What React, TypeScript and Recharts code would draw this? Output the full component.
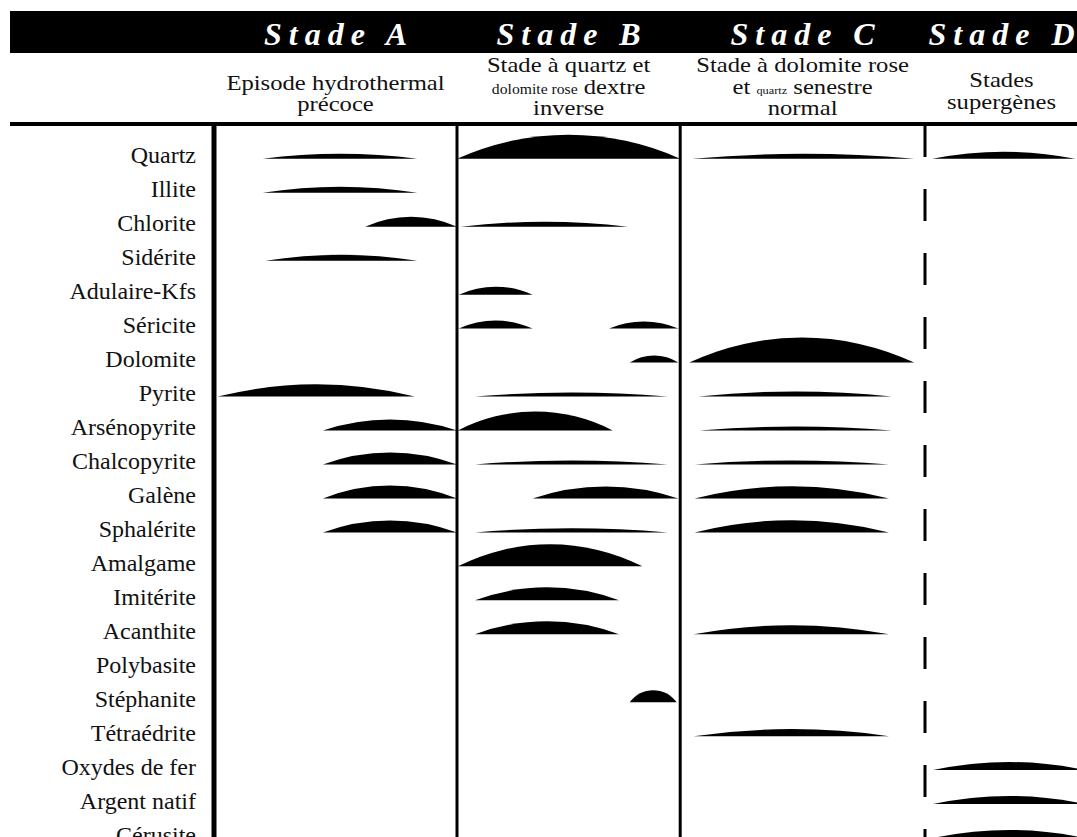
import React from 'react';
import { ComposedChart, Bar, XAxis, YAxis, ReferenceLine } from 'recharts';

// ---------- data ----------
const minerals = [
  'Quartz', 'Illite', 'Chlorite', 'Sidérite', 'Adulaire-Kfs', 'Séricite', 'Dolomite',
  'Pyrite', 'Arsénopyrite', 'Chalcopyrite', 'Galène', 'Sphalérite', 'Amalgame',
  'Imitérite', 'Acanthite', 'Polybasite', 'Stéphanite', 'Tétraédrite',
  'Oxydes de fer', 'Argent natif', 'Cérusite',
];

const stageNames = ['Stade A', 'Stade B', 'Stade C', 'Stade D'];
// relative time boundaries of the stages
const stageBounds = [0, 27, 51.8, 79, 96];

// subtitle lines: each part is [text, small?]
const stageSubtitles: [string, boolean][][][] = [
  [[['Episode hydrothermal', false]], [['précoce', false]]],
  [[['Stade à quartz et', false]], [['dolomite rose', true], [' dextre', false]], [['inverse', false]]],
  [[['Stade à dolomite rose', false]], [['et ', false], ['quartz', true], [' senestre', false]], [['normal', false]]],
  [[['Stades', false]], [['supergènes', false]]],
];

// [mineral, start, end, relative abundance (0-10)]
const stageASegments: [string, number, number, number][] = [
  ['Quartz', 5.4, 22.6, 2],
  ['Illite', 5.4, 22.6, 2.4],
  ['Chlorite', 16.8, 27, 4],
  ['Sidérite', 5.7, 22.6, 2.4],
  ['Pyrite', 0.4, 22.3, 4.8],
  ['Arsénopyrite', 12.1, 27, 4.4],
  ['Chalcopyrite', 12.1, 27, 4.8],
  ['Galène', 12.1, 27, 5.2],
  ['Sphalérite', 12.1, 27, 4.8],
];

const stageBSegments: [string, number, number, number][] = [
  ['Quartz', 27, 51.8, 9.6],
  ['Chlorite', 27.4, 46, 2],
  ['Adulaire-Kfs', 27.2, 35.4, 3.2],
  ['Séricite', 27.2, 35.4, 3.2],
  ['Séricite', 43.9, 51.6, 2.8],
  ['Dolomite', 46.2, 51.6, 2.8],
  ['Pyrite', 29, 50.4, 1.6],
  ['Arsénopyrite', 27.1, 44.3, 7.6],
  ['Chalcopyrite', 29, 50.4, 1.6],
  ['Galène', 35.4, 51.6, 4.8],
  ['Sphalérite', 29, 50.4, 1.6],
  ['Amalgame', 27.1, 47.6, 8.8],
  ['Imitérite', 29, 45, 5.2],
  ['Acanthite', 29, 45, 5.2],
  ['Stéphanite', 46.2, 51.4, 4.8],
];

const stageCSegments: [string, number, number, number][] = [
  ['Quartz', 53.1, 77.8, 2],
  ['Dolomite', 52.8, 77.8, 10],
  ['Pyrite', 53.8, 75.3, 2],
  ['Arsénopyrite', 53.9, 75.3, 1.6],
  ['Chalcopyrite', 53.4, 75, 1.6],
  ['Galène', 53.4, 75, 4.8],
  ['Sphalérite', 53.4, 75, 4.8],
  ['Acanthite', 53.3, 75, 3.6],
  ['Tétraédrite', 53.3, 75, 2.8],
];

const stageDSegments: [string, number, number, number][] = [
  ['Quartz', 79.8, 95.7, 2.8],
  ['Oxydes de fer', 79.9, 96.8, 3.2],
  ['Argent natif', 79.9, 96.8, 3.2],
  ['Cérusite', 79.9, 96.8, 3.2],
];

// ---------- build table ----------
const seriesKeys = ['A', 'B', 'B2', 'C', 'D'];
const rows: any[] = minerals.map((name) => ({ name }));
const put = (segs: [string, number, number, number][], key: string, altKey?: string) => {
  segs.forEach(([m, s, e, ab]) => {
    const row = rows.find((r) => r.name === m);
    let k = key;
    if (row[k] !== undefined && altKey) k = altKey;
    row[k] = [s, e];
    row['ab' + k] = ab;
  });
};
put(stageASegments, 'A');
put(stageBSegments, 'B', 'B2');
put(stageCSegments, 'C');
put(stageDSegments, 'D');

const stageMids = stageNames.map((_, i) => (stageBounds[i] + stageBounds[i + 1]) / 2);

// ---------- rendering helpers ----------
const ABUND_PX = 2.5;
const SERIF = '"Liberation Serif", "Times New Roman", serif';

const Lens = (props: any) => {
  const { x, y, width, height, payload, abKey } = props;
  const ab = payload ? payload[abKey] : undefined;
  if (!ab || !width || width <= 0 || !isFinite(x)) return null;
  const h = ab * ABUND_PX;
  const base = y + height / 2 + 4;
  const r = (width * width / 4 + h * h) / (2 * h);
  const d = `M${x},${base} A${r},${r} 0 0 1 ${x + width},${base} Z`;
  return <path d={d} fill="#000" />;
};

const lineOffsets: number[][] = [
  [-35, -14],
  [-53, -31, -10],
  [-53, -31, -10],
  [-38, -16],
];

const HEAD_LS = 7;

const StageTick = (props: any) => {
  const { x, y, index } = props;
  const i = index;
  const subs = stageSubtitles[i] || [];
  return (
    <g>
      <text
        x={x + HEAD_LS / 2}
        y={y - 80}
        textAnchor="middle"
        fill="#fff"
        fontFamily={SERIF}
        fontWeight="bold"
        fontStyle="italic"
        fontSize={32}
        letterSpacing={HEAD_LS}
      >
        {stageNames[i]}
      </text>
      {subs.map((line, li) => (
        <g key={li} transform={`translate(${x},${y + lineOffsets[i][li]}) scale(1.12,1)`}>
          <text x={0} y={0} textAnchor="middle" fill="#111" fontFamily={SERIF} fontSize={22}>
            {line.map(([t, small], pi) => (
              <tspan key={pi} fontSize={small ? (i === 1 ? 14 : 11) : 22}>{t}</tspan>
            ))}
          </text>
        </g>
      ))}
    </g>
  );
};

const yPad = { top: 12.8, bottom: 0 };

export default function App() {
  return (
    <div style={{ position: 'absolute', left: 0, top: 0, width: 1077, height: 837, overflow: 'hidden', background: '#fff' }}>
      <div style={{ position: 'absolute', left: 10, top: 11, width: 1067, height: 42, background: '#000' }} />
      <div style={{ position: 'absolute', left: 10, top: 121.5, width: 1067, height: 4, background: '#000' }} />
      <div style={{ position: 'absolute', left: 0, top: 0 }}>
        <ComposedChart
          width={1114}
          height={851}
          data={rows}
          layout="vertical"
          margin={{ top: 0, right: 0, bottom: 0, left: 0 }}
          barCategoryGap={0}
          barGap={0}
        >
          <XAxis
            type="number"
            domain={[0, 100]}
            orientation="top"
            height={125}
            ticks={stageMids}
            interval={0}
            axisLine={false}
            tickLine={false}
            tickSize={0}
            tickMargin={0}
            tick={<StageTick />}
            allowDataOverflow
          />
          {seriesKeys.map((k) => (
            <YAxis key={'ax' + k} yAxisId={k} type="category" dataKey="name" hide width={0} padding={yPad} />
          ))}
          <YAxis
            yAxisId="lab"
            type="category"
            dataKey="name"
            width={214}
            interval={0}
            tickLine={false}
            tickSize={0}
            tickMargin={18}
            axisLine={{ stroke: '#000', strokeWidth: 5 }}
            tick={{ fontFamily: SERIF, fontSize: 24, fill: '#111' }}
            padding={yPad}
          />
          <ReferenceLine yAxisId="lab" x={stageBounds[1]} stroke="#000" strokeWidth={3} ifOverflow="visible" />
          <ReferenceLine yAxisId="lab" x={stageBounds[2]} stroke="#000" strokeWidth={3} ifOverflow="visible" />
          <ReferenceLine
            yAxisId="lab"
            x={stageBounds[3]}
            stroke="#000"
            strokeWidth={3}
            strokeDasharray="32 32"
            strokeDashoffset={0}
            ifOverflow="visible"
          />
          {seriesKeys.map((k) => (
            <Bar
              key={'bar' + k}
              yAxisId={k}
              dataKey={k}
              isAnimationActive={false}
              shape={(p: any) => <Lens {...p} abKey={'ab' + k} />}
            />
          ))}
        </ComposedChart>
      </div>
    </div>
  );
}
